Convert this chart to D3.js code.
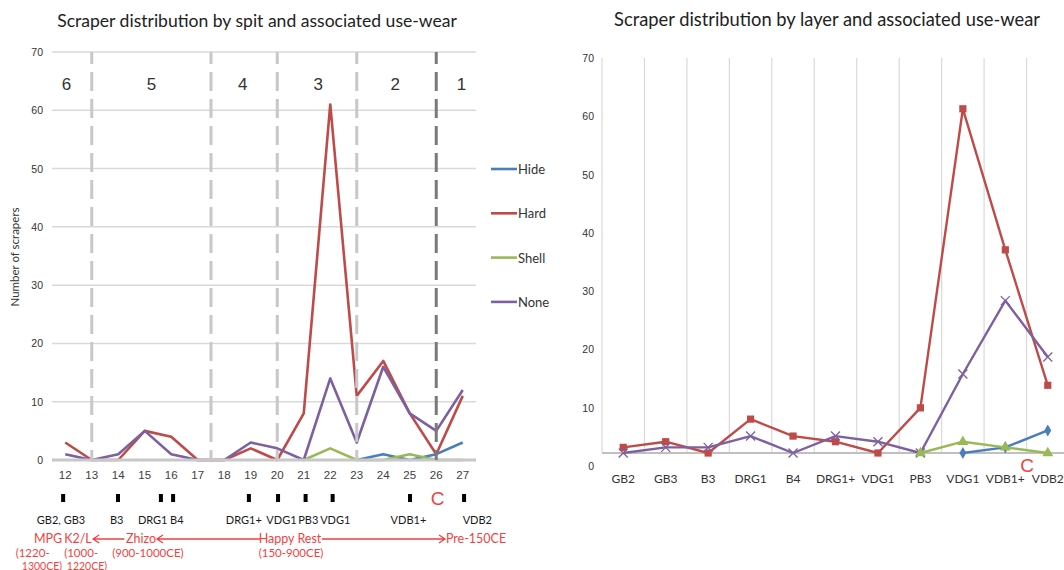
<!DOCTYPE html>
<html>
<head>
<meta charset="utf-8">
<script src="https://cdn.jsdelivr.net/npm/d3@7"></script>
<style>
  body { margin: 0; background: #fff; }
  text { font-family: "Liberation Sans", Arial, sans-serif; }
  .cal { font-family: Lato, "Open Sans", sans-serif; }
</style>
</head>
<body>
<svg id="chart" width="1064" height="570"></svg>
<script>
// ---- left chart data: scrapers per spit
var spits = [12, 13, 14, 15, 16, 17, 18, 19, 20, 21, 22, 23, 24, 25, 26, 27];
var hideSpit  = [null, null, null, null, null, null, null, null, null, null, null, 0, 1, 0, 1, 3];
var hardSpit  = [3, 0, 0, 5, 4, 0, 0, 2, 0, 8, 61, 11, 17, 8, 1, 11];
var shellSpit = [null, null, null, null, null, null, null, null, null, 0, 2, 0, 0, 1, 0, 0];
var noneSpit  = [1, 0, 1, 5, 1, 0, 0, 3, 2, 0, 14, 3, 16, 8, 5, 12];

// phase separators (spit positions) and phase numbers
var separators = [13, 17.5, 20, 23, 26];
var phaseNames = ["6", "5", "4", "3", "2", "1"];
var phasePos = [12.05, 15.25, 18.7, 21.55, 24.45, 26.95];

// layer marks under the spit axis
var markPos = [11.92, 13.99, 15.61, 16.07, 18.93, 20.03, 21.07, 22.09, 25.01, 27.05];
var layerNames = ["GB2, GB3", "B3", "DRG1", "B4", "DRG1+", "VDG1", "PB3", "VDG1", "VDB1+", "VDB2"];
var layerPos = [11.84, 13.94, 15.3, 16.21, 18.74, 20.16, 21.17, 22.19, 24.95, 27.55];

// cultural periods
var periodNames = ["MPG", "K2/L", "Zhizo", "Happy Rest", "Pre-150CE"];
var periodPos = [11.35, 12.48, 14.86, 20.48, 27.5];
var dateLines1 = ["(1220-", "(1000-", "(900-1000CE)", "(150-900CE)"];
var datePos1 = [10.77, 12.6, 15.12, 20.52];
var dateLines2 = ["1300CE)", "1220CE)"];
var datePos2 = [11.12, 12.82];
var arrows = [[14.23, 13.05], [19.35, 15.46], [21.69, 26.33]];

// ---- right chart data: scrapers per layer
var layers = ["GB2", "GB3", "B3", "DRG1", "B4", "DRG1+", "VDG1", "PB3", "VDG1", "VDB1+", "VDB2"];
var hideLayer  = [null, null, null, null, null, null, null, null, 0, 1, 4];
var hardLayer  = [1, 2, 0, 6, 3, 2, 0, 8, 61, 36, 12];
var shellLayer = [null, null, null, null, null, null, null, 0, 2, 1, 0];
var noneLayer  = [0, 1, 1, 3, 0, 3, 2, 0, 14, 27, 17];

var yTicks = [0, 10, 20, 30, 40, 50, 60, 70];
var seriesNames = ["Hide", "Hard", "Shell", "None"];
var colors = {Hide: "#4a7ebb", Hard: "#be4b48", Shell: "#98b954", None: "#7d60a0"};
var red = "#f43f3f";

var svg = d3.select("#chart");

function fitTitle(sel, width) {
  var w = sel.node().getComputedTextLength();
  sel.attr("font-size", 16 * width / w);
}

// ================= LEFT CHART =================
var xL = d3.scaleLinear().domain([11.5, 27.5]).range([52, 476]);
var yL = d3.scaleLinear().domain([0, 70]).range([460, 52]);
var gL = svg.append("g");

fitTitle(gL.append("text").attr("class", "cal")
    .attr("x", 257).attr("y", 27).attr("text-anchor", "middle")
    .attr("font-size", 16).attr("fill", "#222")
    .text("Scraper distribution by spit and associated use-wear"), 400);

gL.selectAll(".grid").data(yTicks.slice(1)).enter().append("line")
    .attr("x1", xL(11.5)).attr("x2", xL(27.5))
    .attr("y1", function(d) { return yL(d); })
    .attr("y2", function(d) { return yL(d); })
    .attr("stroke", "#d9d9d9").attr("stroke-width", 1.5);

gL.selectAll(".ylab").data(yTicks).enter().append("text")
    .attr("x", 43).attr("y", function(d) { return yL(d) + 4; })
    .attr("text-anchor", "end").attr("font-size", 10.5).attr("fill", "#333")
    .text(function(d) { return d; });

gL.append("text").attr("class", "cal")
    .attr("transform", "translate(19,257)rotate(-90)")
    .attr("text-anchor", "middle").attr("font-size", 11.5).attr("fill", "#333")
    .text("Number of scrapers");

var lineL = d3.line()
    .defined(function(d) { return d.v != null; })
    .x(function(d) { return xL(d.x); })
    .y(function(d) { return yL(d.v); });

var spitSeries = [hideSpit, hardSpit, shellSpit, noneSpit];
spitSeries.forEach(function(vals, k) {
  gL.append("path")
      .datum(spits.map(function(s, i) { return {x: s, v: vals[i]}; }))
      .attr("d", lineL)
      .attr("fill", "none")
      .attr("stroke", colors[seriesNames[k]])
      .attr("stroke-width", 2.6)
      .attr("stroke-linejoin", "round");
});

// horizontal axis sits over the series, hiding zero runs
gL.append("line")
    .attr("x1", xL(11.5)).attr("x2", xL(27.5))
    .attr("y1", yL(0)).attr("y2", yL(0))
    .attr("stroke", "#c8c8c8").attr("stroke-width", 3);

gL.selectAll(".sep").data(separators).enter().append("line")
    .attr("x1", function(d) { return xL(d); })
    .attr("x2", function(d) { return xL(d); })
    .attr("y1", yL(70)).attr("y2", yL(0))
    .attr("stroke", function(d, i) { return i == separators.length - 1 ? "#7a7a7a" : "#c8c8c8"; })
    .attr("stroke-width", 3)
    .attr("stroke-dasharray", "19,8")
    .attr("stroke-dashoffset", 7);

gL.selectAll(".phase").data(phaseNames).enter().append("text")
    .attr("x", function(d, i) { return xL(phasePos[i]); })
    .attr("y", 90).attr("text-anchor", "middle")
    .attr("font-size", 17).attr("fill", "#333")
    .text(function(d) { return d; });

gL.selectAll(".xlab").data(spits).enter().append("text")
    .attr("x", function(d) { return xL(d); })
    .attr("y", 479).attr("text-anchor", "middle")
    .attr("font-size", 11.5).attr("fill", "#404040")
    .text(function(d) { return d; });

gL.selectAll(".mark").data(markPos).enter().append("rect")
    .attr("x", function(d) { return xL(d) - 2; })
    .attr("y", 494).attr("width", 4).attr("height", 8)
    .attr("fill", "#000");

gL.append("text")
    .attr("x", xL(26.05)).attr("y", 505).attr("text-anchor", "middle")
    .attr("font-size", 19).attr("fill", red).text("C");

gL.selectAll(".layer").data(layerNames).enter().append("text")
    .attr("class", "cal")
    .attr("x", function(d, i) { return xL(layerPos[i]); })
    .attr("y", 524).attr("text-anchor", "middle")
    .attr("font-size", 11).attr("fill", "#1a1a1a")
    .text(function(d) { return d; });

gL.selectAll(".period").data(periodNames).enter().append("text")
    .attr("class", "cal")
    .attr("x", function(d, i) { return xL(periodPos[i]); })
    .attr("y", 543).attr("text-anchor", "middle")
    .attr("font-size", 12.5).attr("fill", red)
    .text(function(d) { return d; });

gL.selectAll(".date1").data(dateLines1).enter().append("text")
    .attr("class", "cal")
    .attr("x", function(d, i) { return xL(datePos1[i]); })
    .attr("y", 557).attr("text-anchor", "middle")
    .attr("font-size", 11.5).attr("fill", red)
    .text(function(d) { return d; });

gL.selectAll(".date2").data(dateLines2).enter().append("text")
    .attr("class", "cal")
    .attr("x", function(d, i) { return xL(datePos2[i]); })
    .attr("y", 569.5).attr("text-anchor", "middle")
    .attr("font-size", 10.5).attr("fill", red)
    .text(function(d) { return d; });

gL.selectAll(".arrow").data(arrows).enter().append("path")
    .attr("d", function(d) {
      var a = xL(d[0]), b = xL(d[1]), s = b < a ? 6 : -6, y = 539;
      return "M" + a + "," + y + "H" + b + "M" + (b + s) + "," + (y - 4) + "L" + b + "," + y + "L" + (b + s) + "," + (y + 4);
    })
    .attr("fill", "none").attr("stroke", red).attr("stroke-width", 1.3);

// legend
seriesNames.forEach(function(name, i) {
  var y = 169 + i * 44.3;
  gL.append("line").attr("x1", 491).attr("x2", 517).attr("y1", y).attr("y2", y)
      .attr("stroke", colors[name]).attr("stroke-width", 2.6);
  gL.append("text").attr("class", "cal").attr("x", 518).attr("y", y + 5)
      .attr("font-size", 13).attr("fill", "#333").text(name);
});

// ================= RIGHT CHART =================
var xR = d3.scaleBand().domain(d3.range(layers.length)).range([602, 1069]);
var yR = d3.scaleLinear().domain([0, 70]).range([453, 58]);
var yRLab = d3.scaleLinear().domain([0, 70]).range([466, 58]);
var gR = svg.append("g");

fitTitle(gR.append("text").attr("class", "cal")
    .attr("x", 827).attr("y", 26).attr("text-anchor", "middle")
    .attr("font-size", 16).attr("fill", "#222")
    .text("Scraper distribution by layer and associated use-wear"), 426);

gR.selectAll(".vgrid").data(d3.range(layers.length + 1)).enter().append("line")
    .attr("x1", function(d) { return 602 + d * xR.step(); })
    .attr("x2", function(d) { return 602 + d * xR.step(); })
    .attr("y1", yR(70)).attr("y2", yR(0))
    .attr("stroke", "#d9d9d9").attr("stroke-width", 1.2);

gR.append("line")
    .attr("x1", 602).attr("x2", 1069)
    .attr("y1", yR(0)).attr("y2", yR(0))
    .attr("stroke", "#c0c0c0").attr("stroke-width", 2);

gR.selectAll(".ylab").data(yTicks).enter().append("text")
    .attr("x", 594).attr("y", function(d) { return yRLab(d) + 4; })
    .attr("text-anchor", "end").attr("font-size", 10.5).attr("fill", "#333")
    .text(function(d) { return d; });

gR.selectAll(".xlab").data(layers).enter().append("text")
    .attr("class", "cal")
    .attr("x", function(d, i) { return xR(i) + xR.bandwidth() / 2; })
    .attr("y", 483).attr("text-anchor", "middle")
    .attr("font-size", 12).attr("fill", "#333")
    .text(function(d) { return d; });

var cx = function(i) { return xR(i) + xR.bandwidth() / 2; };
var lineR = d3.line()
    .defined(function(d) { return d.v != null; })
    .x(function(d) { return cx(d.i); })
    .y(function(d) { return yR(d.v); });

var markerPath = {
  Hide: d3.symbol(d3.symbolDiamond, 42)(),
  Hard: d3.symbol(d3.symbolSquare, 52)(),
  Shell: d3.symbol(d3.symbolTriangle, 52)(),
  None: "M-4.5,-4.5L4.5,4.5M-4.5,4.5L4.5,-4.5"
};

var layerSeries = {Hide: hideLayer, Hard: hardLayer, Shell: shellLayer, None: noneLayer};
["Hide", "Hard", "None", "Shell"].forEach(function(name) {
  var pts = layers.map(function(l, i) { return {i: i, v: layerSeries[name][i]}; });
  gR.append("path").datum(pts).attr("d", lineR)
      .attr("fill", "none").attr("stroke", colors[name])
      .attr("stroke-width", 2.4).attr("stroke-linejoin", "round");
  gR.selectAll(".m" + name).data(pts.filter(function(d) { return d.v != null; }))
      .enter().append("path")
      .attr("transform", function(d) { return "translate(" + cx(d.i) + "," + yR(d.v) + ")"; })
      .attr("d", markerPath[name])
      .attr("fill", name == "None" ? "none" : colors[name])
      .attr("stroke", name == "None" ? colors[name] : "none")
      .attr("stroke-width", 1.3);
});

gR.append("text")
    .attr("x", 1027).attr("y", 472).attr("text-anchor", "middle")
    .attr("font-size", 19).attr("fill", red).text("C");
</script>
</body>
</html>
